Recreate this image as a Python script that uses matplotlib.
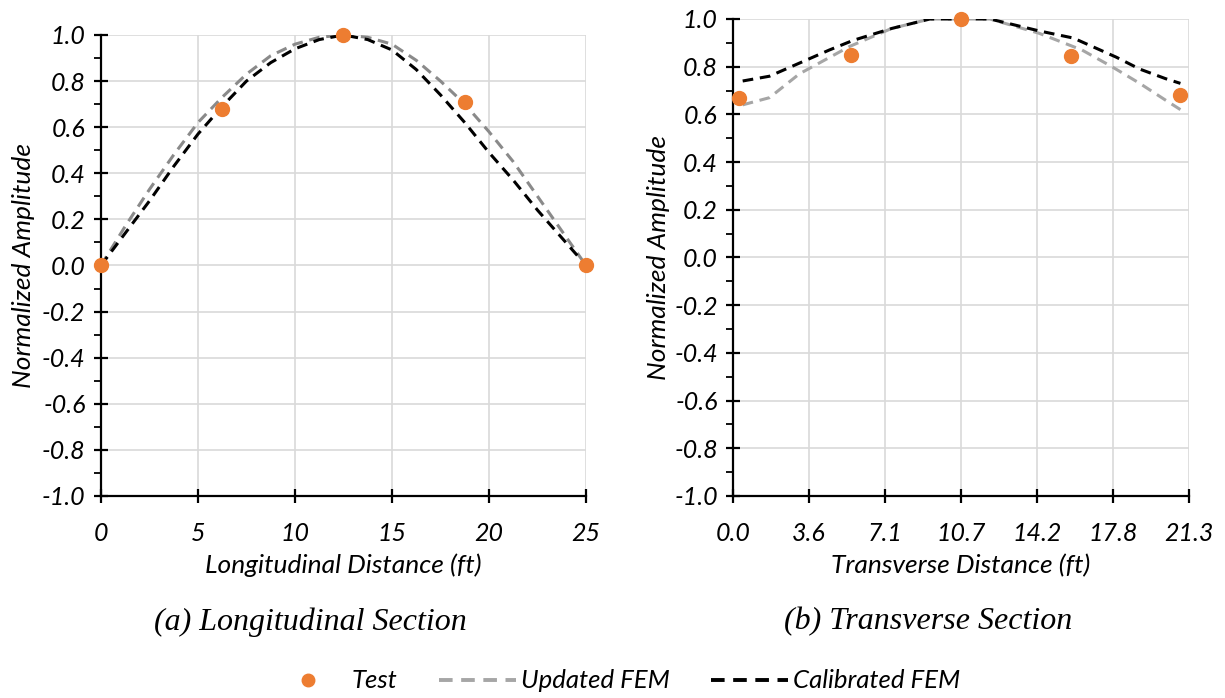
import matplotlib
matplotlib.use("Agg")
import matplotlib.pyplot as plt
from matplotlib.ticker import MultipleLocator, FormatStrFormatter
from matplotlib.lines import Line2D

plt.rcParams['font.family'] = ['Lato', 'DejaVu Sans']
plt.rcParams['axes.unicode_minus'] = False

# (a) longitudinal section
long_test_x = [0, 6.25, 12.5, 18.75, 25]
long_test_y = [0.0, 0.68, 1.0, 0.71, 0.0]
long_x = [0, 1.25, 2.5, 3.75, 5, 6.25, 7.5, 8.75, 10, 11.25, 12.5,
          13.75, 15, 16.25, 17.5, 18.75, 20, 21.25, 22.5, 23.75, 25]
long_updated = [0.0, 0.17, 0.33, 0.48, 0.62, 0.73, 0.83, 0.91, 0.96, 0.99, 1.0,
                0.99, 0.96, 0.89, 0.80, 0.70, 0.58, 0.45, 0.30, 0.15, 0.0]
long_calibrated = [0.0, 0.14, 0.28, 0.43, 0.57, 0.69, 0.80, 0.88, 0.94, 0.98, 1.0,
                   0.98, 0.935, 0.85, 0.74, 0.62, 0.49, 0.37, 0.24, 0.12, 0.0]

# (b) transverse section
trans_test_x = [0.3, 5.5, 10.65, 15.8, 20.9]
trans_test_y = [0.67, 0.85, 1.0, 0.845, 0.68]
trans_upd_x = [0.45, 1.7, 3.1, 5.45, 7.4, 9.2, 12.0, 14.3, 16.3, 17.7, 19.0, 20.2, 20.9]
trans_updated = [0.64, 0.67, 0.77, 0.885, 0.96, 1.0, 1.0, 0.94, 0.87, 0.80, 0.73, 0.66, 0.62]
trans_cal_x = [0.45, 1.7, 3.1, 4.5, 5.6, 7.4, 9.2, 12.0, 14.3, 15.9, 17.9, 19.0, 20.2, 20.9]
trans_calibrated = [0.74, 0.76, 0.815, 0.87, 0.91, 0.96, 1.0, 1.0, 0.95, 0.92, 0.84, 0.79, 0.75, 0.73]
trans_ticks = [0.0, 3.55, 7.1, 10.65, 14.2, 17.75, 21.3]
trans_ticklabels = ['0.0', '3.6', '7.1', '10.7', '14.2', '17.8', '21.3']

ORANGE = '#ed7d31'
DASH = (0, (3.5, 2.2))

fig = plt.figure(figsize=(12.25, 6.98), dpi=100)
ax1 = fig.add_axes([0.0824, 0.2894, 0.396, 0.6605])
ax2 = fig.add_axes([0.5984, 0.2894, 0.3722, 0.6834])


def style(ax):
    ax.set_ylim(-1.0, 1.0)
    ax.yaxis.set_major_locator(MultipleLocator(0.2))
    ax.yaxis.set_minor_locator(MultipleLocator(0.1))
    ax.yaxis.set_major_formatter(FormatStrFormatter('%.1f'))
    ax.grid(True, which='major', color='#d9d9d9', linewidth=1.2)
    ax.set_axisbelow(True)
    for s in ['top', 'right']:
        ax.spines[s].set_visible(False)
    for s in ['left', 'bottom']:
        ax.spines[s].set_linewidth(1.6)
        ax.spines[s].set_zorder(5)
    ax.tick_params(which='major', direction='inout', length=10, width=1.6,
                   labelsize=18)
    ax.tick_params(which='minor', direction='out', length=5, width=1.3)
    ax.tick_params(axis='x', which='minor', bottom=False)
    ax.tick_params(axis='x', pad=14)
    ax.tick_params(axis='y', pad=6)
    for lab in ax.get_xticklabels() + ax.get_yticklabels():
        lab.set_style('italic')


ax1.plot(long_x, long_updated, color='#8a8a8a', lw=2.2, linestyle=DASH, zorder=3)
ax1.plot(long_x, long_calibrated, color='black', lw=2.2, linestyle=DASH, zorder=3)
ax1.plot(long_test_x, long_test_y, 'o', color=ORANGE, ms=10, zorder=6, clip_on=False)
ax1.set_xlim(0, 25)
ax1.xaxis.set_major_locator(MultipleLocator(5))
style(ax1)
ax1.set_xlabel('Longitudinal Distance (ft)', fontsize=19, style='italic', labelpad=6)
ax1.set_ylabel('Normalized Amplitude', fontsize=19, style='italic', labelpad=5)

ax2.plot(trans_upd_x, trans_updated, color='#a6a6a6', lw=2.2, linestyle=DASH, zorder=3)
ax2.plot(trans_cal_x, trans_calibrated, color='black', lw=2.2, linestyle=DASH, zorder=3)
ax2.plot(trans_test_x, trans_test_y, 'o', color=ORANGE, ms=10, zorder=6, clip_on=False)
ax2.set_xlim(0, 21.3)
ax2.set_xticks(trans_ticks, trans_ticklabels)
style(ax2)
ax2.set_xlabel('Transverse Distance (ft)', fontsize=19, style='italic', labelpad=6)
ax2.set_ylabel('Normalized Amplitude', fontsize=19, style='italic', labelpad=3)

fig.text(0.253, 1 - 622 / 698, '(a) Longitudinal Section', family='Liberation Serif',
         style='italic', fontsize=23, ha='center', va='center')
fig.text(0.758, 1 - 622 / 698, '(b) Transverse Section', family='Liberation Serif',
         style='italic', fontsize=23, ha='center', va='center')

handles = [
    Line2D([], [], marker='o', linestyle='none', color=ORANGE, ms=9),
    Line2D([], [], color='#a6a6a6', lw=2.8, linestyle=DASH),
    Line2D([], [], color='black', lw=2.8, linestyle=DASH),
]
fig.legend(handles, ['Test', 'Updated FEM', 'Calibrated FEM'], loc='center',
           bbox_to_anchor=(0.502, 1 - 681 / 698), ncol=3, frameon=False,
           prop={'style': 'italic', 'size': 18.5}, handlelength=3.0,
           columnspacing=1.6, handletextpad=0.2)

fig.savefig('out.png', dpi=100)
